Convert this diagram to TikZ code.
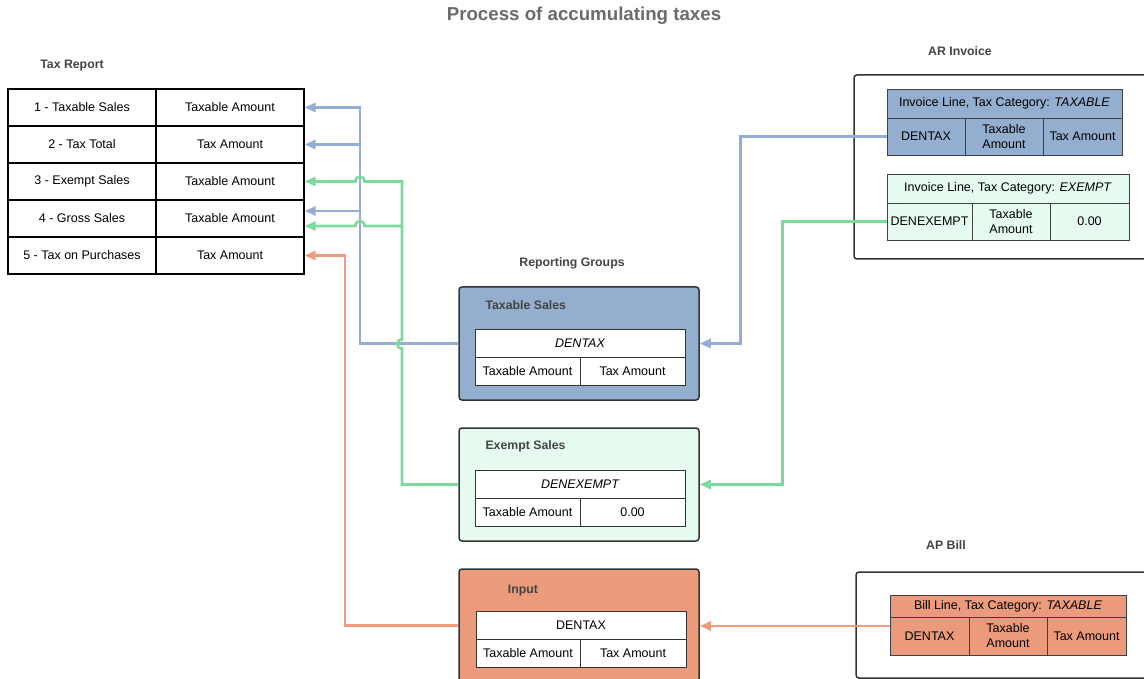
\documentclass[tikz,border=0pt]{standalone}
\usepackage{fontspec}
\setmainfont{Liberation Sans}
\usetikzlibrary{arrows.meta}
\definecolor{bluef}{HTML}{94AECF}
\definecolor{bluel}{HTML}{94AED3}
\definecolor{mintf}{HTML}{E6FBEF}
\definecolor{greenl}{HTML}{7DD99C}
\definecolor{orangef}{HTML}{EB9A7B}
\definecolor{orangel}{HTML}{EE9B7E}
\definecolor{titlegray}{HTML}{6B6B6B}
\definecolor{labelgray}{HTML}{444444}
\begin{document}
\begin{tikzpicture}[x=1pt,y=-1pt,
  txt/.style={font=\fontsize{12.5}{15}\selectfont},
  cellbox/.style={txt,draw=black,line width=1.2pt,inner sep=0pt,align=center},
  lcell/.style={txt,draw=black!75,line width=0.9pt,inner sep=0pt,align=center},
  icell/.style={txt,draw=black!80,line width=0.8pt,fill=white,inner sep=0pt,align=center},
  groupbox/.style={draw=black!80,line width=1.5pt,rounded corners=3pt,minimum width=240pt,minimum height=113pt},
  outerbox/.style={draw=black!80,line width=1.5pt,rounded corners=3pt},
  seclabel/.style={font=\bfseries\fontsize{12.3}{14}\selectfont,text=labelgray},
  conn/.style={line width=2.8pt,-{Triangle[length=11pt,width=9pt]}},
  bline/.style={conn,draw=bluel,color=bluel},
  gline/.style={conn,draw=greenl,color=greenl},
  oline/.style={conn,draw=orangel,color=orangel},
  plainline/.style={line width=2.8pt}
]
\useasboundingbox (0,0) rectangle (1144,679);
\clip (0,0) rectangle (1144,679);

% title
\node[font=\bfseries\fontsize{18.7}{22}\selectfont,text=titlegray] (title) at (584,16) {Process of accumulating taxes};

% Tax report
\node[seclabel] (trlabel) at (72,66) {Tax Report};
\foreach \n/\y/\a/\b in {1/107.5/1 - Taxable Sales/Taxable Amount,
                          2/144.5/2 - Tax Total/Tax Amount,
                          3/181.5/3 - Exempt Sales/Taxable Amount,
                          4/218.5/4 - Gross Sales/Taxable Amount,
                          5/255.5/5 - Tax on Purchases/Tax Amount}{
  \node[cellbox,minimum width=148pt,minimum height=37pt] (r\n a) at (82,\y) {\a};
  \node[cellbox,minimum width=148pt,minimum height=37pt] (r\n b) at (230,\y) {\b};
}

% Reporting groups
\node[seclabel] (rglabel) at (572,263) {Reporting Groups};

\node[groupbox,fill=bluef] (tsg) at (579,343.5) {};
\node[seclabel,anchor=west] (tsl) at (482,305) {Taxable Sales};
\node[icell,minimum width=210pt,minimum height=28pt] (tsh) at (580,343) {\itshape DENTAX};
\node[icell,minimum width=105pt,minimum height=28pt] (tsa) at (527.5,371) {Taxable Amount};
\node[icell,minimum width=105pt,minimum height=28pt] (tsb) at (632.5,371) {Tax Amount};

\node[groupbox,fill=mintf] (esg) at (579,484.5) {};
\node[seclabel,anchor=west] (esl) at (482,446) {Exempt Sales};
\node[icell,minimum width=210pt,minimum height=28pt] (esh) at (580,484) {\itshape DENEXEMPT};
\node[icell,minimum width=105pt,minimum height=28pt] (esa) at (527.5,512) {Taxable Amount};
\node[icell,minimum width=105pt,minimum height=28pt] (esb) at (632.5,512) {0.00};

\node[groupbox,fill=orangef] (ipg) at (579,625.5) {};
\node[seclabel] (ipl) at (523,591) {Input};
\node[icell,minimum width=210pt,minimum height=28pt] (iph) at (581,625) {DENTAX};
\node[icell,minimum width=104pt,minimum height=28pt] (ipa) at (528,653) {Taxable Amount};
\node[icell,minimum width=106pt,minimum height=28pt] (ipb) at (633,653) {Tax Amount};

% AR Invoice
\node[seclabel] (arlabel) at (960,51) {AR Invoice};
\node[outerbox,minimum width=300pt,minimum height=184pt] (ar) at (1004,167) {};
\node[lcell,fill=bluef,minimum width=235pt,minimum height=29pt] (ith) at (1004.5,103.5) {Invoice Line, Tax Category: \textit{TAXABLE}};
\node[lcell,fill=bluef,minimum width=78pt,minimum height=37pt] (ia) at (926,136.5) {DENTAX};
\node[lcell,fill=bluef,minimum width=78pt,minimum height=37pt] (ib) at (1004,136.5) {Taxable\\Amount};
\node[lcell,fill=bluef,minimum width=79pt,minimum height=37pt] (ic) at (1082.5,136.5) {Tax Amount};

\node[lcell,fill=mintf,minimum width=242pt,minimum height=29pt] (ieh) at (1008,188.5) {Invoice Line, Tax Category: \textit{EXEMPT}};
\node[lcell,fill=mintf,minimum width=85pt,minimum height=37pt] (ie) at (929.5,221.5) {DENEXEMPT};
\node[lcell,fill=mintf,minimum width=78pt,minimum height=37pt] (ief) at (1011,221.5) {Taxable\\Amount};
\node[lcell,fill=mintf,minimum width=79pt,minimum height=37pt] (ieg) at (1089.5,221.5) {0.00};

% AP Bill
\node[seclabel] (aplabel) at (946,545) {AP Bill};
\node[outerbox,minimum width=300pt,minimum height=106pt] (ap) at (1006,625) {};
\node[lcell,fill=orangef,minimum width=236pt,minimum height=22pt] (bh) at (1008,606) {Bill Line, Tax Category: \textit{TAXABLE}};
\node[lcell,fill=orangef,minimum width=79pt,minimum height=38pt] (bd) at (929.5,636) {DENTAX};
\node[lcell,fill=orangef,minimum width=78pt,minimum height=38pt] (be) at (1008,636) {Taxable\\Amount};
\node[lcell,fill=orangef,minimum width=79pt,minimum height=38pt] (bf) at (1086.5,636) {Tax Amount};

% connectors: invoice -> groups
\draw[bline] (ia.west) -- ++(-146,0) |- (tsg.east);
\draw[gline] (ie.west) -- ++(-104,0) |- (esg.east);
\coordinate (bstart) at ([yshift=10pt]bd.west);
\draw[oline] (bstart) -- (ipg.east |- bstart);

% groups -> tax report
\coordinate (bj) at (360,343.5);
\coordinate (r4up) at ([yshift=7.5pt]r4b.east);
\coordinate (r4dn) at ([yshift=-7.5pt]r4b.east);
\draw[bline] (tsg.west) -- (bj) |- (r1b.east);
\draw[bline] (bj |- r2b.east) -- (r2b.east);
\draw[bline] (bj |- r4up) -- (r4up);

\coordinate (gj) at (402,484.5);
\draw[plainline,greenl] (esg.west) -- (gj) -- (402,348.5) .. controls (395.5,348.5) and (395.5,339.5) .. (402,339.5) -- (402,226);
\draw[gline] (402,226) -- (402,181.5) -- (364.5,181.5) .. controls (364.5,175) and (355.5,175) .. (355.5,181.5) -- (r3b.east);
\draw[gline] (402,226) -- (364.5,226) .. controls (364.5,219.5) and (355.5,219.5) .. (355.5,226) -- (r4dn);

\coordinate (oj) at (345,625.5);
\draw[oline] (ipg.west) -- (oj) |- (r5b.east);
\end{tikzpicture}
\end{document}
